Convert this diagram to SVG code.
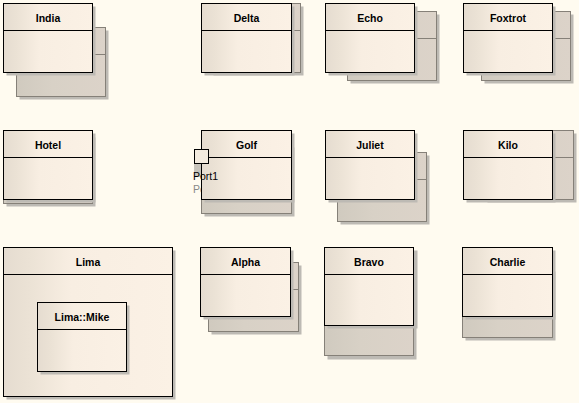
<svg xmlns="http://www.w3.org/2000/svg" width="579" height="403" viewBox="0 0 579 403">
<style>
.bg{fill:#fffbf0}
.sh{fill:#bdbab4}
.bk{fill:url(#gb);stroke:#858078;stroke-width:1}
.bl{stroke:#858078;stroke-width:1}
.mn{fill:url(#gm);stroke:#000;stroke-width:1}
.ml{stroke:#000;stroke-width:1}
.t{font-family:"Liberation Sans",Arial,sans-serif;font-weight:bold;font-size:10.5px;fill:#000;text-anchor:middle}
.pl{font-family:"Liberation Sans",Arial,sans-serif;font-size:10.5px;fill:#000}
.pg{font-family:"Liberation Sans",Arial,sans-serif;font-size:10.5px;fill:#888}
</style>
<defs>
<linearGradient id="gm" x1="0" y1="0" x2="1" y2="0">
<stop offset="0" stop-color="#e5dcd0"/>
<stop offset="0.15" stop-color="#ebe2d5"/>
<stop offset="0.4" stop-color="#f8eee2"/>
<stop offset="1" stop-color="#fbf1e5"/>
</linearGradient>
<linearGradient id="gb" x1="0" y1="0" x2="1" y2="0">
<stop offset="0" stop-color="#d0cabf"/>
<stop offset="0.4" stop-color="#d8d1c6"/>
<stop offset="1" stop-color="#dcd3c9"/>
</linearGradient>
</defs>
<rect class="bg" x="0" y="0" width="579" height="403"/>

<g id="India">
<rect class="sh" x="19.5" y="30.5" width="89" height="69"/>
<rect class="bk" x="16.5" y="27.5" width="89" height="69"/>
<line class="bl" x1="16.5" y1="54.5" x2="105.5" y2="54.5"/>
<rect class="sh" x="6.5" y="6.5" width="89" height="69"/>
<rect class="mn" x="3.5" y="3.5" width="89" height="69"/>
<line class="ml" x1="3.5" y1="30.5" x2="92.5" y2="30.5"/>
<text class="t" x="48" y="22">India</text>
</g>

<g id="Delta">
<rect class="sh" x="213.5" y="6.5" width="90" height="69"/>
<rect class="bk" x="210.5" y="3.5" width="90" height="69"/>
<line class="bl" x1="210.5" y1="30.5" x2="300.5" y2="30.5"/>
<rect class="sh" x="204.5" y="6.5" width="90" height="69"/>
<rect class="mn" x="201.5" y="3.5" width="90" height="69"/>
<line class="ml" x1="201.5" y1="30.5" x2="291.5" y2="30.5"/>
<text class="t" x="246.5" y="22">Delta</text>
</g>

<g id="Echo">
<rect class="sh" x="350.5" y="14.5" width="89" height="69"/>
<rect class="bk" x="347.5" y="11.5" width="89" height="69"/>
<line class="bl" x1="347.5" y1="38.5" x2="436.5" y2="38.5"/>
<rect class="sh" x="328.5" y="6.5" width="89" height="69"/>
<rect class="mn" x="325.5" y="3.5" width="89" height="69"/>
<line class="ml" x1="325.5" y1="30.5" x2="414.5" y2="30.5"/>
<text class="t" x="370" y="22">Echo</text>
</g>

<g id="Foxtrot">
<rect class="sh" x="484.5" y="14.5" width="89" height="69"/>
<rect class="bk" x="481.5" y="11.5" width="89" height="69"/>
<line class="bl" x1="481.5" y1="38.5" x2="570.5" y2="38.5"/>
<rect class="sh" x="466.5" y="6.5" width="89" height="69"/>
<rect class="mn" x="463.5" y="3.5" width="89" height="69"/>
<line class="ml" x1="463.5" y1="30.5" x2="552.5" y2="30.5"/>
<text class="t" x="508" y="22">Foxtrot</text>
</g>

<g id="Hotel">
<rect class="sh" x="6.5" y="137.5" width="89" height="69"/>
<rect class="bk" x="3.5" y="134.5" width="89" height="69"/>
<rect class="sh" x="6.5" y="133.5" width="89" height="69"/>
<rect class="mn" x="3.5" y="130.5" width="89" height="69"/>
<line class="ml" x1="3.5" y1="157.5" x2="92.5" y2="157.5"/>
<text class="t" x="48" y="149">Hotel</text>
</g>

<g id="Golf">
<text class="pg" x="193" y="193">Port1</text>
<rect class="sh" x="204.5" y="147.5" width="90" height="69"/>
<rect class="bk" x="201.5" y="144.5" width="90" height="69"/>
<rect class="sh" x="204.5" y="133.5" width="90" height="69"/>
<rect class="mn" x="201.5" y="130.5" width="90" height="69"/>
<line class="ml" x1="201.5" y1="157.5" x2="291.5" y2="157.5"/>
<text class="t" x="246.5" y="149">Golf</text>
<g id="Port1">
<rect x="194" y="163" width="7" height="14" fill="#c8c4bc"/>
<rect x="194.5" y="149.5" width="14" height="14" fill="#f3ebdf" stroke="#000" stroke-width="1"/>
<text class="pl" x="193" y="180">Port1</text>
</g>
</g>

<g id="Juliet">
<rect class="sh" x="340.5" y="155.5" width="89" height="69"/>
<rect class="bk" x="337.5" y="152.5" width="89" height="69"/>
<line class="bl" x1="337.5" y1="179.5" x2="426.5" y2="179.5"/>
<rect class="sh" x="328.5" y="133.5" width="89" height="69"/>
<rect class="mn" x="325.5" y="130.5" width="89" height="69"/>
<line class="ml" x1="325.5" y1="157.5" x2="414.5" y2="157.5"/>
<text class="t" x="370" y="149">Juliet</text>
</g>

<g id="Kilo">
<rect class="sh" x="487.5" y="133.5" width="89" height="69"/>
<rect class="bk" x="484.5" y="130.5" width="89" height="69"/>
<line class="bl" x1="484.5" y1="157.5" x2="573.5" y2="157.5"/>
<rect class="sh" x="466.5" y="133.5" width="89" height="69"/>
<rect class="mn" x="463.5" y="130.5" width="89" height="69"/>
<line class="ml" x1="463.5" y1="157.5" x2="552.5" y2="157.5"/>
<text class="t" x="508" y="149">Kilo</text>
</g>

<g id="Lima">
<rect class="sh" x="6.5" y="250.5" width="169" height="149"/>
<rect class="mn" x="3.5" y="247.5" width="169" height="149"/>
<line class="ml" x1="3.5" y1="274.5" x2="172.5" y2="274.5"/>
<text class="t" x="88" y="266">Lima</text>
</g>

<g id="Lima_Mike">
<rect class="sh" x="40.5" y="305.5" width="89" height="69"/>
<rect class="mn" x="37.5" y="302.5" width="89" height="69"/>
<line class="ml" x1="37.5" y1="329.5" x2="126.5" y2="329.5"/>
<text class="t" x="82" y="321">Lima::Mike</text>
</g>

<g id="Alpha">
<rect class="sh" x="211.5" y="265.5" width="90" height="69"/>
<rect class="bk" x="208.5" y="262.5" width="90" height="69"/>
<line class="bl" x1="208.5" y1="289.5" x2="298.5" y2="289.5"/>
<rect class="sh" x="203.5" y="250.5" width="90" height="69"/>
<rect class="mn" x="200.5" y="247.5" width="90" height="69"/>
<line class="ml" x1="200.5" y1="274.5" x2="290.5" y2="274.5"/>
<text class="t" x="245.5" y="266">Alpha</text>
</g>

<g id="Bravo">
<rect class="sh" x="327.5" y="281.5" width="89" height="78"/>
<rect class="bk" x="324.5" y="278.5" width="89" height="77"/>
<rect class="sh" x="327.5" y="250.5" width="90" height="78"/>
<rect class="mn" x="324.5" y="247.5" width="89" height="78"/>
<line class="ml" x1="324.5" y1="274.5" x2="413.5" y2="274.5"/>
<text class="t" x="369" y="266">Bravo</text>
</g>

<g id="Charlie">
<rect class="sh" x="465.5" y="271.5" width="90" height="69"/>
<rect class="bk" x="462.5" y="268.5" width="90" height="69"/>
<rect class="sh" x="465.5" y="250.5" width="90" height="69"/>
<rect class="mn" x="462.5" y="247.5" width="90" height="69"/>
<line class="ml" x1="462.5" y1="274.5" x2="552.5" y2="274.5"/>
<text class="t" x="507.5" y="266">Charlie</text>
</g>

<g id="connectors"></g>
</svg>
